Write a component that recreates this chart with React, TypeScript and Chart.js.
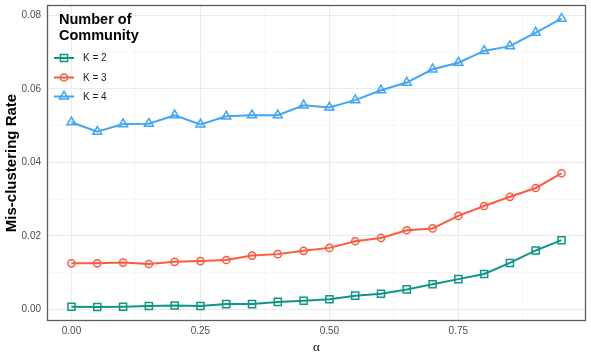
import React, { useEffect, useRef } from "react";
import { Chart, registerables } from "chart.js";

Chart.register(...registerables);

const alpha = [0, 0.05, 0.1, 0.15, 0.2, 0.25, 0.3, 0.35, 0.4, 0.45, 0.5, 0.55, 0.6, 0.65, 0.7, 0.75, 0.8, 0.85, 0.9, 0.95];
const k2 = [0.0007, 0.0006, 0.0007, 0.0009, 0.001, 0.0009, 0.0014, 0.0014, 0.002, 0.0023, 0.0027, 0.0037, 0.0042, 0.0054, 0.0068, 0.0082, 0.0096, 0.0126, 0.016, 0.0188];
const k3 = [0.0125, 0.0125, 0.0127, 0.0123, 0.0129, 0.0131, 0.0134, 0.0146, 0.015, 0.0159, 0.0167, 0.0185, 0.0194, 0.0215, 0.022, 0.0254, 0.0281, 0.0306, 0.033, 0.037];
const k4 = [0.0509, 0.0483, 0.0504, 0.0505, 0.0528, 0.0503, 0.0525, 0.0528, 0.0528, 0.0555, 0.0549, 0.0569, 0.0596, 0.0617, 0.0653, 0.0671, 0.0703, 0.0716, 0.0753, 0.0791];

const seriesLabels = ["K = 2", "K = 3", "K = 4"];
const seriesColors = ["#0E9688", "#FF5A3D", "#42A5F5"];
const seriesShapes = ["rect", "circle", "triangle"];
const legendTitle = ["Number of", "Community"];

const xMajor = [0, 0.25, 0.5, 0.75];
const xMinor = [0.125, 0.375, 0.625, 0.875];
const yMajor = [0, 0.02, 0.04, 0.06, 0.08];
const yMinor = [0.01, 0.03, 0.05, 0.07];

const FONT = "'Liberation Sans', Arial, Helvetica, sans-serif";

export default function App() {
  const ref = useRef<HTMLCanvasElement | null>(null);

  useEffect(() => {
    if (!ref.current) return;
    const seriesValues = [k2, k3, k4];
    const radii = [5, 3.6, 5.2];

    function drawMarker(ctx: CanvasRenderingContext2D, shape: string, x: number, y: number, r: number, color: string) {
      ctx.save();
      ctx.strokeStyle = color;
      ctx.lineWidth = 1.5;
      ctx.beginPath();
      if (shape === "rect") {
        const s = r * Math.SQRT1_2;
        ctx.rect(x - s, y - s, 2 * s, 2 * s);
      } else if (shape === "circle") {
        ctx.arc(x, y, r, 0, Math.PI * 2);
      } else {
        for (let k = 0; k < 3; k++) {
          const ang = -Math.PI / 2 + (k * 2 * Math.PI) / 3;
          const px = x + Math.cos(ang) * r;
          const py = y + Math.sin(ang) * r;
          if (k === 0) ctx.moveTo(px, py);
          else ctx.lineTo(px, py);
        }
        ctx.closePath();
      }
      ctx.stroke();
      ctx.restore();
    }

    const panelPlugin = {
      id: "panelAndLegend",
      afterDraw(chart: any) {
        const ctx = chart.ctx;
        const a = chart.chartArea;
        ctx.save();
        ctx.strokeStyle = "#5c5c5c";
        ctx.lineWidth = 1.3;
        ctx.strokeRect(a.left + 0.5, a.top + 0.5, a.right - a.left - 1, a.bottom - a.top - 1);

        ctx.fillStyle = "#000";
        ctx.font = `bold 14.5px ${FONT}`;
        ctx.textAlign = "left";
        ctx.textBaseline = "alphabetic";
        ctx.fillText(legendTitle[0], 59, 23.5);
        ctx.fillText(legendTitle[1], 59, 39.5);

        const ys = [58, 77.5, 96.5];
        chart.data.datasets.forEach((ds: any, i: number) => {
          const y = ys[i];
          ctx.strokeStyle = ds.borderColor;
          ctx.lineWidth = 2;
          ctx.beginPath();
          ctx.moveTo(54, y);
          ctx.lineTo(74, y);
          ctx.stroke();
          drawMarker(ctx, seriesShapes[i], 64, y, radii[i], ds.borderColor);
          ctx.fillStyle = "#1a1a1a";
          ctx.font = `10px ${FONT}`;
          ctx.textBaseline = "middle";
          ctx.fillText(ds.label, 83, y + 0.5);
        });
        ctx.restore();
      },
    };

    const chart = new Chart(ref.current, {
      type: "line",
      data: {
        datasets: seriesValues.map((vals, i) => ({
          label: seriesLabels[i],
          data: alpha.map((a, j) => ({ x: a, y: vals[j] })),
          borderColor: seriesColors[i],
          backgroundColor: "rgba(0,0,0,0)",
          pointBackgroundColor: "rgba(0,0,0,0)",
          pointBorderColor: seriesColors[i],
          pointStyle: seriesShapes[i] as any,
          pointRadius: radii[i],
          pointBorderWidth: 1.5,
          borderWidth: 2,
          tension: 0,
          fill: false,
        })),
      },
      options: {
        responsive: false,
        animation: false,
        events: [],
        layout: { autoPadding: false, padding: { left: 0, top: 5, right: 5, bottom: 0 } },
        plugins: {
          legend: { display: false },
          tooltip: { enabled: false },
        },
        scales: {
          x: {
            type: "linear",
            min: -0.0475,
            max: 0.9975,
            afterBuildTicks: (scale: any) => {
              scale.ticks = [...xMajor, ...xMinor].sort((a, b) => a - b).map((v) => ({ value: v }));
            },
            afterFit: (scale: any) => {
              scale.height = 34;
              scale.paddingLeft = 0;
              scale.paddingRight = 0;
            },
            ticks: {
              autoSkip: false,
              maxRotation: 0,
              padding: 4,
              color: "#4d4d4d",
              font: { family: FONT, size: 10 },
              callback: (v: any) => (xMajor.includes(Number(v)) ? Number(v).toFixed(2) : ""),
            },
            grid: {
              drawTicks: false,
              color: (c: any) => (xMajor.includes(c.tick?.value) ? "#EBEBEB" : "#F5F5F5"),
              lineWidth: (c: any) => (xMajor.includes(c.tick?.value) ? 1.1 : 0.7),
            },
            border: { display: false },
            title: {
              display: true,
              text: "α",
              color: "#000",
              font: { family: "'Liberation Serif', 'DejaVu Serif', serif", size: 13 },
              padding: { top: 0, bottom: 0 },
            },
          },
          y: {
            type: "linear",
            min: -0.0032,
            max: 0.0828,
            afterBuildTicks: (scale: any) => {
              scale.ticks = [...yMajor, ...yMinor].sort((a, b) => a - b).map((v) => ({ value: v }));
            },
            afterFit: (scale: any) => {
              scale.width = 47;
              scale.paddingTop = 0;
              scale.paddingBottom = 0;
            },
            ticks: {
              autoSkip: false,
              padding: 6,
              color: "#4d4d4d",
              font: { family: FONT, size: 10 },
              callback: (v: any) => (yMajor.includes(Number(v)) ? Number(v).toFixed(2) : ""),
            },
            grid: {
              drawTicks: false,
              color: (c: any) => (yMajor.includes(c.tick?.value) ? "#EBEBEB" : "#F5F5F5"),
              lineWidth: (c: any) => (yMajor.includes(c.tick?.value) ? 1.1 : 0.7),
            },
            border: { display: false },
            title: {
              display: true,
              text: "Mis-clustering Rate",
              color: "#000",
              font: { family: FONT, size: 15, weight: "bold" },
              padding: { top: 3, bottom: 0 },
            },
          },
        },
      },
      plugins: [panelPlugin],
    });
    return () => chart.destroy();
  }, []);

  return (
    <div style={{ position: "fixed", left: 0, top: 0, width: 591, height: 355, background: "#fff" }}>
      <canvas ref={ref} width={591} height={355} style={{ display: "block" }} />
    </div>
  );
}
